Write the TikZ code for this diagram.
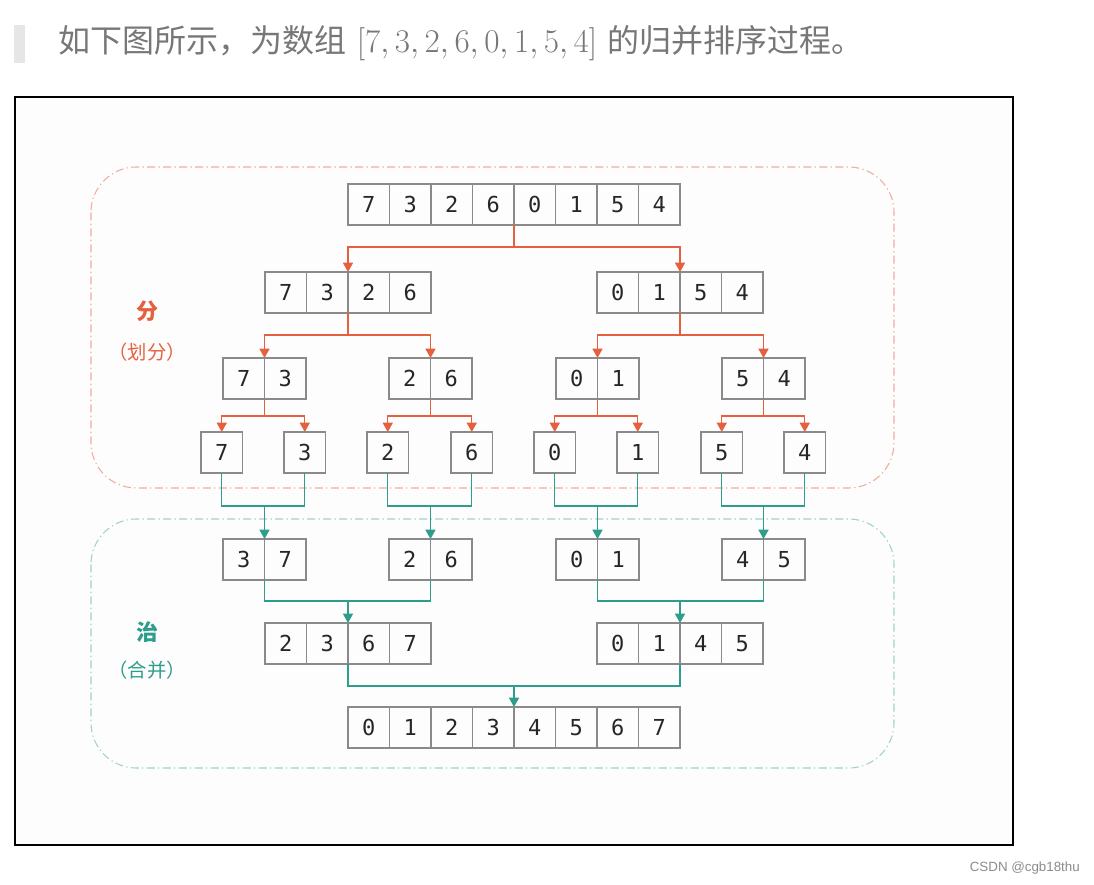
\documentclass[tikz,border=0pt]{standalone}
\usepackage{fontspec}
\newfontfamily\cjk{Noto Sans CJK SC}
\newfontfamily\monof{DejaVu Sans Mono}
\newfontfamily\wmf{Liberation Sans}
\usetikzlibrary{arrows.meta}
\definecolor{splitc}{HTML}{E5603F}
\definecolor{mergec}{HTML}{2E9D8B}
\definecolor{splitbg}{HTML}{F0ADA0}
\definecolor{mergebg}{HTML}{9FD3C9}
\definecolor{cellc}{HTML}{8A8A8A}
\definecolor{headc}{HTML}{777777}
\definecolor{barc}{HTML}{E6E6E6}
\tikzset{
  cell/.style={draw=cellc, line width=1.1pt, minimum width=31.1pt, minimum height=30.75pt,
    inner sep=0pt, outer sep=0pt, font=\monof\fontsize{16.5}{16.5}\selectfont, text=black!85},
  tip/.style={-{Triangle[width=7.5pt,length=7pt]}},
  splitln/.style={draw=splitc, line width=1.1pt},
  mergeln/.style={draw=mergec, line width=1.1pt},
  region/.style={line width=0.8pt, rounded corners=34pt,
    dash pattern=on 6pt off 2.5pt on 1pt off 2.5pt},
  biglabel/.style={font=\cjk\bfseries\fontsize{16.5}{16.5}\selectfont},
  smalllabel/.style={font=\cjk\fontsize{14.5}{14.5}\selectfont}
}
\newcommand\arr[5]{%
  \foreach \v [count=\i] in {#5} {\node[cell] (#1-\i) at ({#2+(\i-0.5)*41.5},{#3+20.5}) {\v};}
  \coordinate (#1-t) at ({#2+#4*20.75},#3);
  \coordinate (#1-b) at ({#2+#4*20.75},{#3+41});
}
\begin{document}
\begin{tikzpicture}[x=0.75pt,y=-0.75pt]
\useasboundingbox (0,0) rectangle (1094,884);
\fill[white] (0,0) rectangle (1094,884);
% header
\fill[barc] (14,25) rectangle (25,63);
\node[anchor=west, inner sep=0pt, text=headc, font=\cjk\fontsize{24}{24}\selectfont] (head) at (58,43)
  {如下图所示，为数组\hspace{8pt}\(\mathcolor{headc}{[7,3,2,6,0,1,5,4]}\)\hspace{8pt}的归并排序过程。};
% frame
\draw[line width=2.2pt, fill=black!0.8] (15,97) rectangle (1013,845);
% regions
\draw[region, draw=splitbg] (91,167) rectangle (894,488);
\draw[region, draw=mergebg] (91,519) rectangle (894,768);
\node[biglabel, text=splitc] (l1) at (147,311) {分};
\node[smalllabel, text=splitc] (l2) at (147,352) {（划分）};
\node[biglabel, text=mergec] (l3) at (147,632) {治};
\node[smalllabel, text=mergec] (l4) at (147,670) {（合并）};
% arrays
\arr{top}{348}{184}{8}{7,3,2,6,0,1,5,4}
\arr{L}{265}{272}{4}{7,3,2,6}
\arr{R}{597}{272}{4}{0,1,5,4}
\arr{LL}{223}{358}{2}{7,3}
\arr{LR}{389}{358}{2}{2,6}
\arr{RL}{556}{358}{2}{0,1}
\arr{RR}{722}{358}{2}{5,4}
\arr{sa}{201}{432}{1}{7}
\arr{sb}{284}{432}{1}{3}
\arr{sc}{367}{432}{1}{2}
\arr{sd}{451}{432}{1}{6}
\arr{se}{534}{432}{1}{0}
\arr{sf}{617}{432}{1}{1}
\arr{sg}{701}{432}{1}{5}
\arr{sh}{784}{432}{1}{4}
\arr{ma}{223}{539}{2}{3,7}
\arr{mb}{389}{539}{2}{2,6}
\arr{mc}{556}{539}{2}{0,1}
\arr{md}{722}{539}{2}{4,5}
\arr{MA}{265}{623}{4}{2,3,6,7}
\arr{MB}{597}{623}{4}{0,1,4,5}
\arr{F}{348}{707}{8}{0,1,2,3,4,5,6,7}
% split connectors
\foreach \p/\a/\b/\d in {top/L/R/22, L/LL/LR/22, R/RL/RR/22, LL/sa/sb/17, LR/sc/sd/17, RL/se/sf/17, RR/sg/sh/17} {
  \draw[splitln, tip] (\p-b) -- ++(0,\d) -| (\a-t);
  \draw[splitln, tip] (\p-b) -- ++(0,\d) -| (\b-t);
}
% merge connectors
\foreach \a/\b/\c/\d in {sa/sb/ma/33, sc/sd/mb/33, se/sf/mc/33, sg/sh/md/33, ma/mb/MA/21, mc/md/MB/21, MA/MB/F/22} {
  \draw[mergeln] (\a-b) -- ++(0,\d) -| (\b-b);
  \draw[mergeln, tip] (\c-t) ++(0,-\d) -- (\c-t);
}
% watermark
\node[anchor=east, inner sep=0pt, text=black!45, font=\wmf\fontsize{10}{10}\selectfont] (wm) at (1080,868) {CSDN @cgb18thu};
\end{tikzpicture}
\end{document}
